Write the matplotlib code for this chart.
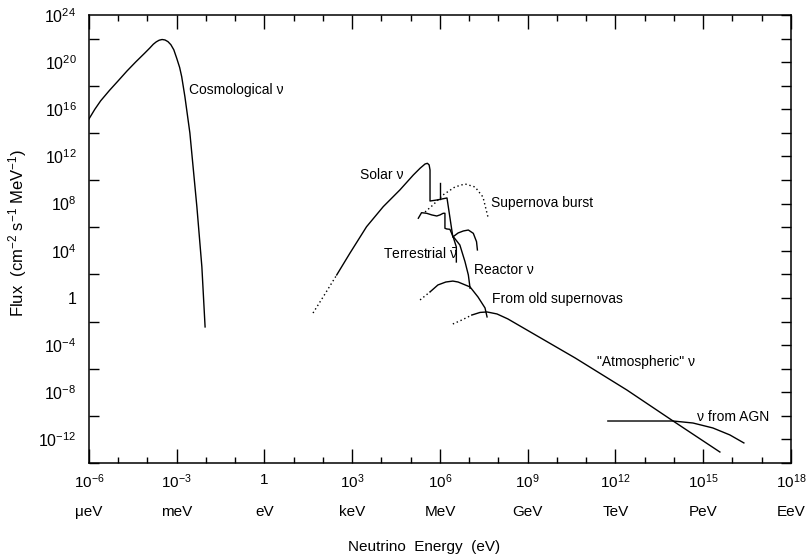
import matplotlib
matplotlib.use("Agg")
import matplotlib.pyplot as plt
from matplotlib.ticker import FixedLocator, FixedFormatter, NullFormatter
import numpy as np

plt.rcParams["font.family"] = ["Liberation Sans", "DejaVu Sans"]
plt.rcParams["mathtext.fontset"] = "custom"
plt.rcParams["mathtext.rm"] = "Liberation Sans"
plt.rcParams["mathtext.it"] = "Liberation Sans"
plt.rcParams["mathtext.bf"] = "Liberation Sans:bold"

# every value below is log10(E / eV) or log10(flux / cm^-2 s^-1 MeV^-1)
cosmo_e = [-6.30, -6.00, -5.80, -5.60, -5.30, -5.00, -4.70, -4.40, -4.10, -3.92,
           -3.80, -3.70, -3.60, -3.50, -3.40, -3.30, -3.20, -3.10, -3.00, -2.90,
           -2.83, -2.72, -2.55, -2.31, -2.14, -2.03]
cosmo_f = [13.98, 15.18, 16.00, 16.72, 17.60, 18.42, 19.25, 20.02, 20.75, 21.20,
           21.52, 21.72, 21.86, 21.92, 21.88, 21.74, 21.48, 21.05, 20.33, 19.55,
           18.77, 17.07, 13.99, 7.71, 2.63, -2.46]

solar_dot_e = [1.66, 2.07, 2.47]
solar_dot_f = [-1.28, 0.34, 1.95]
solar_e = [2.47, 2.92, 3.49, 4.06, 4.63, 5.09, 5.32, 5.49, 5.57, 5.63, 5.66, 5.66,
           5.90, 6.24, 6.44]
solar_f = [1.95, 3.79, 6.04, 7.74, 9.16, 10.43, 11.00, 11.36, 11.42, 11.28, 10.85,
           8.22, 8.31, 8.48, 5.17]
be7_e = [6.00, 6.00]
be7_f = [9.75, 8.39]
hep_e = [6.455, 6.62, 6.80, 6.97, 7.14, 7.25, 7.28]
hep_f = [5.20, 5.51, 5.68, 5.76, 5.48, 4.77, 4.07]

terr_e = [5.26, 5.37, 5.545, 5.72, 5.89, 6.00, 6.11, 6.17, 6.17, 6.23, 6.34, 6.455, 6.56, 6.56]
terr_f = [6.76, 7.23, 7.18, 7.04, 6.95, 7.04, 7.18, 7.18, 5.91, 5.85, 5.82, 5.15, 4.32, 3.05]

reactor_e = [6.455, 6.68, 6.855, 6.97, 7.03]
reactor_f = [5.20, 4.49, 3.08, 1.95, 0.82]

snburst_e = [5.49, 5.76, 6.10, 6.51, 6.855, 7.20, 7.47, 7.64]
snburst_f = [7.29, 7.88, 8.73, 9.41, 9.67, 9.41, 8.56, 6.87]

oldsn_dot_e = [5.32, 5.49, 5.66]
oldsn_dot_f = [-0.17, 0.17, 0.51]
oldsn_e = [5.66, 5.93, 6.20, 6.44, 6.62, 7.03, 7.30, 7.54, 7.61]
oldsn_f = [0.51, 1.10, 1.35, 1.43, 1.35, 0.93, 0.08, -0.85, -1.61]

atmo_dot_e = [6.44, 6.75, 7.09]
atmo_dot_f = [-2.21, -1.87, -1.45]
atmo_e = [7.09, 7.37, 7.61, 7.95, 8.32, 10.62, 12.39, 13.97, 15.57]
atmo_f = [-1.45, -1.23, -1.19, -1.36, -1.78, -5.09, -7.81, -10.44, -13.07]

agn_e = [11.74, 13.97, 14.65, 15.33, 15.91, 16.39]
agn_f = [-10.44, -10.44, -10.61, -11.03, -11.62, -12.30]

labels = ["Cosmological ν", "Solar ν", "Supernova burst", r"Terrestrial $\bar{\nu}$",
          "Reactor ν", "From old supernovas", "\"Atmospheric\" ν", "ν from AGN"]
label_e = [-2.58, 3.26, 7.74, 4.05, 7.16, 7.78, 11.37, 14.80]
label_f = [17.64, 10.43, 8.05, 3.73, 2.37, -0.09, -5.43, -10.14]

xtick_exp = [-6, -3, 0, 3, 6, 9, 12, 15, 18]
xtick_labels = ["$10^{-6}$", "$10^{-3}$", "1", "$10^{3}$", "$10^{6}$", "$10^{9}$",
                "$10^{12}$", "$10^{15}$", "$10^{18}$"]
units = ["μeV", "meV", "eV", "keV", "MeV", "GeV", "TeV", "PeV", "EeV"]
ytick_exp = [-12, -8, -4, 0, 4, 8, 12, 16, 20, 24]
ytick_labels = ["$10^{-12}$", "$10^{-8}$", "$10^{-4}$", "1", "$10^{4}$", "$10^{8}$",
                "$10^{12}$", "$10^{16}$", "$10^{20}$", "$10^{24}$"]


def p(v):
    return 10.0 ** np.array(v)


fig = plt.figure(figsize=(8.11, 5.57), dpi=100)
ax = fig.add_axes([0.1097, 0.1688, 0.8656, 0.8043])

solid = dict(color="black", lw=1.0)
dotted = dict(color="black", lw=1.0, linestyle=(0, (1, 2)))

ax.plot(p(cosmo_e), p(cosmo_f), **solid)
ax.plot(p(solar_dot_e), p(solar_dot_f), **dotted)
ax.plot(p(solar_e), p(solar_f), **solid)
ax.plot(p(be7_e), p(be7_f), **solid)
ax.plot(p(hep_e), p(hep_f), **solid)
ax.plot(p(terr_e), p(terr_f), **solid)
ax.plot(p(reactor_e), p(reactor_f), **solid)
ax.plot(p(snburst_e), p(snburst_f), **dotted)
ax.plot(p(oldsn_dot_e), p(oldsn_dot_f), **dotted)
ax.plot(p(oldsn_e), p(oldsn_f), **solid)
ax.plot(p(atmo_dot_e), p(atmo_dot_f), **dotted)
ax.plot(p(atmo_e), p(atmo_f), **solid)
ax.plot(p(agn_e), p(agn_f), **solid)

for txt, le, lf in zip(labels, label_e, label_f):
    ax.text(10.0 ** le, 10.0 ** lf, txt, fontsize=10, ha="left", va="center")

ax.set_xscale("log")
ax.set_yscale("log")
ax.set_xlim(1e-6, 1e18)
ax.set_ylim(1e-14, 1e24)

ax.xaxis.set_major_locator(FixedLocator(p(xtick_exp)))
ax.xaxis.set_major_formatter(FixedFormatter(xtick_labels))
ax.xaxis.set_minor_locator(FixedLocator(p(np.arange(-6, 19, 1))))
ax.xaxis.set_minor_formatter(NullFormatter())
ax.yaxis.set_major_locator(FixedLocator(p(ytick_exp)))
ax.yaxis.set_major_formatter(FixedFormatter(ytick_labels))
ax.yaxis.set_minor_locator(FixedLocator(p(np.arange(-14, 25, 4))))
ax.yaxis.set_minor_formatter(NullFormatter())

ax.tick_params(axis="x", which="both", direction="in", top=True, labelsize=11, pad=7)
ax.tick_params(axis="x", which="major", length=10, width=1)
ax.tick_params(axis="x", which="minor", length=4.5, width=1)
ax.tick_params(axis="y", which="both", direction="in", right=True, labelsize=11.5,
               length=7, width=1, pad=9)
ax.tick_params(axis="y", which="major", left=False)
for s in ax.spines.values():
    s.set_linewidth(1.1)

for ex, u in zip(xtick_exp, units):
    ax.text(10.0 ** ex, -0.109, u, fontsize=11, ha="center", va="center",
            transform=ax.get_xaxis_transform())

fig.text(0.523, 0.018, "Neutrino  Energy  (eV)", fontsize=11, ha="center", va="center")
fig.text(0.022, 1 - 233 / 557, "Flux  (cm$^{-2}$ s$^{-1}$ MeV$^{-1}$)", fontsize=12,
         rotation=90, ha="center", va="center")

fig.savefig("out.png", dpi=100)
